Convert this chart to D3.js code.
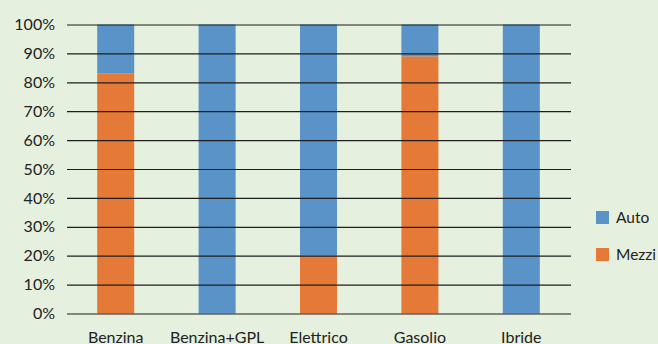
<!DOCTYPE html>
<html>
<head>
<meta charset="utf-8">
<script src="https://cdn.jsdelivr.net/npm/d3@7"></script>
<style>
  html, body { margin: 0; padding: 0; background: #e6f0df; }
  svg text { font-family: Lato, "Open Sans", sans-serif; fill: #222; }
</style>
</head>
<body>
<script>
// data
const categories = ['Benzina', 'Benzina+GPL', 'Elettrico', 'Gasolio', 'Ibride'];
const mezzi = [83, 0, 20, 89, 0];
const auto = [17, 100, 80, 11, 100];
const yTicks = [0, 10, 20, 30, 40, 50, 60, 70, 80, 90, 100];
const seriesNames = ['Auto', 'Mezzi'];
const seriesColors = ['#5993c8', '#e57a38'];

const svgWidth = 658;
const svgHeight = 344;

const svg = d3.select('body')
              .append('svg')
              .attr('width', svgWidth)
              .attr('height', svgHeight);

svg.append('rect')
   .attr('width', svgWidth)
   .attr('height', svgHeight)
   .attr('fill', '#e6f0df');

const xScale = d3.scaleBand()
                 .domain(categories)
                 .range([65, 572])
                 .paddingInner(0.635)
                 .paddingOuter(0.3175);

const yScale = d3.scaleLinear()
                 .domain([0, 100])
                 .range([313.5, 24.5]);

// stack: Mezzi on bottom, Auto on top
const rows = categories.map((c, i) => ({cat: c, Mezzi: mezzi[i], Auto: auto[i]}));
const stacked = d3.stack().keys(['Mezzi', 'Auto'])(rows);
const colorScale = d3.scaleOrdinal().domain(seriesNames).range(seriesColors);

svg.append('g')
   .selectAll('g')
   .data(stacked)
   .enter()
   .append('g')
   .attr('fill', d => colorScale(d.key))
   .selectAll('rect')
   .data(d => d)
   .enter()
   .append('rect')
   .attr('x', d => xScale(d.data.cat))
   .attr('y', d => yScale(d[1]))
   .attr('width', xScale.bandwidth())
   .attr('height', d => yScale(d[0]) - yScale(d[1]));

// gridlines + y labels
const yAxis = d3.axisLeft(yScale)
                .tickValues(yTicks)
                .tickSize(-(571 - 67))
                .tickPadding(12)
                .tickFormat(d => d + '%');
const yG = svg.append('g')
              .attr('transform', 'translate(67,0)')
              .call(yAxis);
yG.select('.domain').remove();
yG.selectAll('line').attr('stroke', '#1e1e1e').attr('stroke-width', 1.2);
yG.selectAll('text').attr('font-size', 16).style('font-family', 'Lato, sans-serif').attr('fill', '#222');

// x labels
const xAxis = d3.axisBottom(xScale).tickSize(0).tickPadding(18);
const xG = svg.append('g')
              .attr('transform', 'translate(0,313.5)')
              .call(xAxis);
xG.select('.domain').remove();
xG.selectAll('text').attr('font-size', 16).style('font-family', 'Lato, sans-serif').attr('fill', '#222');

// legend
const legend = svg.append('g')
                  .selectAll('g')
                  .data(seriesNames)
                  .enter()
                  .append('g')
                  .attr('transform', (d, i) => 'translate(596,' + (211 + i * 37) + ')');
legend.append('rect')
      .attr('width', 13)
      .attr('height', 13)
      .attr('fill', d => colorScale(d));
legend.append('text')
      .attr('x', 20)
      .attr('y', 12)
      .attr('font-size', 15.5)
      .text(d => d);
</script>
</body>
</html>
